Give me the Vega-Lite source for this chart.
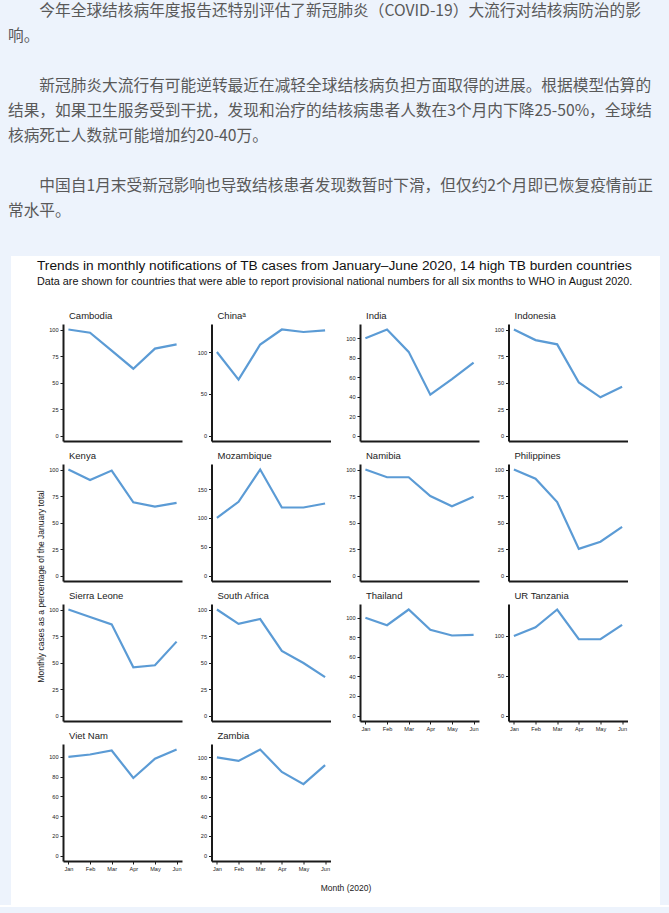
{
  "$schema": "https://vega.github.io/schema/vega-lite/v6.json",
  "background": "white",
  "padding": 0,
  "spacing": 0,
  "datasets": {
    "lines": [
      {"line": 0, "text": "\u200b\u3000\u3000今年全球结核病年度报告还特别评估了新冠肺炎（COVID-19）大流行对结核病防治的影"},
      {"line": 1, "text": "响。"},
      {"line": 3, "text": "\u200b\u3000\u3000新冠肺炎大流行有可能逆转最近在减轻全球结核病负担方面取得的进展。根据模型估算的"},
      {"line": 4, "text": "结果，如果卫生服务受到干扰，发现和治疗的结核病患者人数在3个月内下降25-50%，全球结"},
      {"line": 5, "text": "核病死亡人数就可能增加约20-40万。"},
      {"line": 7, "text": "\u200b\u3000\u3000中国自1月末受新冠影响也导致结核患者发现数暂时下滑，但仅约2个月即已恢复疫情前正"},
      {"line": 8, "text": "常水平。"}
    ],
    "heads": [
      {"line": 0, "text": "Trends in monthly notifications of TB cases from January–June 2020, 14 high TB burden countries"},
      {"line": 1, "text": "Data are shown for countries that were able to report provisional national numbers for all six months to WHO in August 2020."}
    ],
    "blank": [{"t": ""}],
    "tb": [
      {"country": "Cambodia", "month": "Jan", "value": 100},
      {"country": "Cambodia", "month": "Feb", "value": 97},
      {"country": "Cambodia", "month": "Mar", "value": 80},
      {"country": "Cambodia", "month": "Apr", "value": 63},
      {"country": "Cambodia", "month": "May", "value": 82},
      {"country": "Cambodia", "month": "Jun", "value": 86},
      {"country": "China", "month": "Jan", "value": 100},
      {"country": "China", "month": "Feb", "value": 67},
      {"country": "China", "month": "Mar", "value": 109},
      {"country": "China", "month": "Apr", "value": 127},
      {"country": "China", "month": "May", "value": 124},
      {"country": "China", "month": "Jun", "value": 126},
      {"country": "India", "month": "Jan", "value": 100},
      {"country": "India", "month": "Feb", "value": 109},
      {"country": "India", "month": "Mar", "value": 86},
      {"country": "India", "month": "Apr", "value": 42},
      {"country": "India", "month": "May", "value": 58},
      {"country": "India", "month": "Jun", "value": 75},
      {"country": "Indonesia", "month": "Jan", "value": 100},
      {"country": "Indonesia", "month": "Feb", "value": 90},
      {"country": "Indonesia", "month": "Mar", "value": 86},
      {"country": "Indonesia", "month": "Apr", "value": 50},
      {"country": "Indonesia", "month": "May", "value": 36},
      {"country": "Indonesia", "month": "Jun", "value": 46},
      {"country": "Kenya", "month": "Jan", "value": 100},
      {"country": "Kenya", "month": "Feb", "value": 90},
      {"country": "Kenya", "month": "Mar", "value": 99},
      {"country": "Kenya", "month": "Apr", "value": 69},
      {"country": "Kenya", "month": "May", "value": 65},
      {"country": "Kenya", "month": "Jun", "value": 68.5},
      {"country": "Mozambique", "month": "Jan", "value": 100},
      {"country": "Mozambique", "month": "Feb", "value": 128},
      {"country": "Mozambique", "month": "Mar", "value": 184},
      {"country": "Mozambique", "month": "Apr", "value": 118},
      {"country": "Mozambique", "month": "May", "value": 118},
      {"country": "Mozambique", "month": "Jun", "value": 125},
      {"country": "Namibia", "month": "Jan", "value": 100},
      {"country": "Namibia", "month": "Feb", "value": 92.7},
      {"country": "Namibia", "month": "Mar", "value": 92.7},
      {"country": "Namibia", "month": "Apr", "value": 75},
      {"country": "Namibia", "month": "May", "value": 65.3},
      {"country": "Namibia", "month": "Jun", "value": 74.4},
      {"country": "Philippines", "month": "Jan", "value": 100},
      {"country": "Philippines", "month": "Feb", "value": 91.3},
      {"country": "Philippines", "month": "Mar", "value": 69.3},
      {"country": "Philippines", "month": "Apr", "value": 25.1},
      {"country": "Philippines", "month": "May", "value": 31.9},
      {"country": "Philippines", "month": "Jun", "value": 45.8},
      {"country": "Sierra Leone", "month": "Jan", "value": 100},
      {"country": "Sierra Leone", "month": "Feb", "value": 93},
      {"country": "Sierra Leone", "month": "Mar", "value": 86},
      {"country": "Sierra Leone", "month": "Apr", "value": 45.5},
      {"country": "Sierra Leone", "month": "May", "value": 47.4},
      {"country": "Sierra Leone", "month": "Jun", "value": 69.7},
      {"country": "South Africa", "month": "Jan", "value": 100},
      {"country": "South Africa", "month": "Feb", "value": 86.4},
      {"country": "South Africa", "month": "Mar", "value": 91},
      {"country": "South Africa", "month": "Apr", "value": 61},
      {"country": "South Africa", "month": "May", "value": 49.5},
      {"country": "South Africa", "month": "Jun", "value": 36.2},
      {"country": "Thailand", "month": "Jan", "value": 100},
      {"country": "Thailand", "month": "Feb", "value": 92.3},
      {"country": "Thailand", "month": "Mar", "value": 108.4},
      {"country": "Thailand", "month": "Apr", "value": 87.7},
      {"country": "Thailand", "month": "May", "value": 81.8},
      {"country": "Thailand", "month": "Jun", "value": 82.5},
      {"country": "UR Tanzania", "month": "Jan", "value": 100},
      {"country": "UR Tanzania", "month": "Feb", "value": 110.9},
      {"country": "UR Tanzania", "month": "Mar", "value": 133.2},
      {"country": "UR Tanzania", "month": "Apr", "value": 95.8},
      {"country": "UR Tanzania", "month": "May", "value": 95.8},
      {"country": "UR Tanzania", "month": "Jun", "value": 113.9},
      {"country": "Viet Nam", "month": "Jan", "value": 100},
      {"country": "Viet Nam", "month": "Feb", "value": 102.3},
      {"country": "Viet Nam", "month": "Mar", "value": 106.4},
      {"country": "Viet Nam", "month": "Apr", "value": 78.5},
      {"country": "Viet Nam", "month": "May", "value": 98},
      {"country": "Viet Nam", "month": "Jun", "value": 107.4},
      {"country": "Zambia", "month": "Jan", "value": 100},
      {"country": "Zambia", "month": "Feb", "value": 96.5},
      {"country": "Zambia", "month": "Mar", "value": 108.1},
      {"country": "Zambia", "month": "Apr", "value": 85.2},
      {"country": "Zambia", "month": "May", "value": 72.8},
      {"country": "Zambia", "month": "Jun", "value": 92.2}
    ]
  },
  "vconcat": [
    {
      "width": 669,
      "height": 256,
      "view": {"fill": "#edf3fc", "stroke": null},
      "data": {"name": "lines"},
      "mark": {"type": "text", "align": "left", "baseline": "middle", "font": "Noto Sans CJK SC", "fontSize": 15.7, "color": "#595959", "dx": 8},
      "encoding": {
        "x": {"datum": 0, "type": "quantitative", "scale": {"domain": [0, 1]}, "axis": null},
        "y": {"field": "line", "type": "quantitative", "scale": {"domain": [-0.42, 9.82], "reverse": true, "nice": false, "zero": false}, "axis": null},
        "text": {"field": "text"}
      }
    },
    {
      "spacing": 0,
      "columns": 5,
      "align": "none",
      "concat": [
        {
          "width": 11,
          "height": 649,
          "view": {"fill": "#edf3fc", "stroke": null},
          "data": {"name": "blank"},
          "mark": {"type": "text"},
          "encoding": {"text": {"field": "t"}}
        },
        {
          "width": 24.5,
          "height": 649,
          "view": {"fill": "white", "stroke": null},
          "data": {"name": "blank"},
          "mark": {"type": "text"},
          "encoding": {"text": {"field": "t"}}
        },
        {
          "spacing": 5,
          "vconcat": [
            {
              "width": 568,
              "height": 50,
              "data": {"name": "heads"},
              "encoding": {
                "x": {"datum": 0, "type": "quantitative", "scale": {"domain": [0, 1]}, "axis": null},
                "y": {"field": "line", "type": "quantitative", "scale": {"domain": [-0.625, 2.5], "reverse": true, "nice": false, "zero": false}, "axis": null},
                "text": {"field": "text"}
              },
              "layer": [
                {
                  "transform": [{"filter": "datum.line === 0"}],
                  "mark": {"type": "text", "align": "left", "baseline": "middle", "font": "Liberation Sans", "fontSize": 13.7, "color": "#111", "dx": -26}
                },
                {
                  "transform": [{"filter": "datum.line === 1"}],
                  "mark": {"type": "text", "align": "left", "baseline": "middle", "font": "Liberation Sans", "fontSize": 10.8, "color": "#111", "dx": -26}
                }
              ]
            },
            {
              "data": {"name": "tb"},
              "columns": 4,
              "bounds": "flush",
              "spacing": {"row": 23, "column": 29.5},
              "concat": [
                {
                  "width": 119, "height": 117,
                  "title": "Cambodia",
                  "transform": [{"filter": "datum.country === 'Cambodia'"}],
                  "mark": {"type": "line", "color": "#5b9bd5", "strokeWidth": 2.2},
                  "encoding": {
                    "x": {"field": "month", "type": "ordinal", "sort": ["Jan", "Feb", "Mar", "Apr", "May", "Jun"], "scale": {"type": "point", "padding": 0.25}, "axis": {"title": null, "ticks": false, "labels": false}},
                    "y": {"field": "value", "type": "quantitative", "scale": {"zero": true, "nice": false, "padding": 5.5}, "axis": {"title": null, "values": [0, 25, 50, 75, 100]}}
                  }
                },
                {
                  "width": 119, "height": 117,
                  "title": "Chinaᵃ",
                  "transform": [{"filter": "datum.country === 'China'"}],
                  "mark": {"type": "line", "color": "#5b9bd5", "strokeWidth": 2.2},
                  "encoding": {
                    "x": {"field": "month", "type": "ordinal", "sort": ["Jan", "Feb", "Mar", "Apr", "May", "Jun"], "scale": {"type": "point", "padding": 0.25}, "axis": {"title": null, "ticks": false, "labels": false}},
                    "y": {"field": "value", "type": "quantitative", "scale": {"zero": true, "nice": false, "padding": 5.5}, "axis": {"title": null, "values": [0, 50, 100]}}
                  }
                },
                {
                  "width": 119, "height": 117,
                  "title": "India",
                  "transform": [{"filter": "datum.country === 'India'"}],
                  "mark": {"type": "line", "color": "#5b9bd5", "strokeWidth": 2.2},
                  "encoding": {
                    "x": {"field": "month", "type": "ordinal", "sort": ["Jan", "Feb", "Mar", "Apr", "May", "Jun"], "scale": {"type": "point", "padding": 0.25}, "axis": {"title": null, "ticks": false, "labels": false}},
                    "y": {"field": "value", "type": "quantitative", "scale": {"zero": true, "nice": false, "padding": 5.5}, "axis": {"title": null, "values": [0, 20, 40, 60, 80, 100]}}
                  }
                },
                {
                  "width": 119, "height": 117,
                  "title": "Indonesia",
                  "transform": [{"filter": "datum.country === 'Indonesia'"}],
                  "mark": {"type": "line", "color": "#5b9bd5", "strokeWidth": 2.2},
                  "encoding": {
                    "x": {"field": "month", "type": "ordinal", "sort": ["Jan", "Feb", "Mar", "Apr", "May", "Jun"], "scale": {"type": "point", "padding": 0.25}, "axis": {"title": null, "ticks": false, "labels": false}},
                    "y": {"field": "value", "type": "quantitative", "scale": {"zero": true, "nice": false, "padding": 5.5}, "axis": {"title": null, "values": [0, 25, 50, 75, 100]}}
                  }
                },
                {
                  "width": 119, "height": 117,
                  "title": "Kenya",
                  "transform": [{"filter": "datum.country === 'Kenya'"}],
                  "mark": {"type": "line", "color": "#5b9bd5", "strokeWidth": 2.2},
                  "encoding": {
                    "x": {"field": "month", "type": "ordinal", "sort": ["Jan", "Feb", "Mar", "Apr", "May", "Jun"], "scale": {"type": "point", "padding": 0.25}, "axis": {"title": null, "ticks": false, "labels": false}},
                    "y": {"field": "value", "type": "quantitative", "scale": {"zero": true, "nice": false, "padding": 5.5}, "axis": {"title": "Monthly cases as a percentage of the January total", "titleX": -22.5, "titleY": 122, "titleAngle": -90, "titleAlign": "center", "titleBaseline": "middle", "values": [0, 25, 50, 75, 100]}}
                  }
                },
                {
                  "width": 119, "height": 117,
                  "title": "Mozambique",
                  "transform": [{"filter": "datum.country === 'Mozambique'"}],
                  "mark": {"type": "line", "color": "#5b9bd5", "strokeWidth": 2.2},
                  "encoding": {
                    "x": {"field": "month", "type": "ordinal", "sort": ["Jan", "Feb", "Mar", "Apr", "May", "Jun"], "scale": {"type": "point", "padding": 0.25}, "axis": {"title": null, "ticks": false, "labels": false}},
                    "y": {"field": "value", "type": "quantitative", "scale": {"zero": true, "nice": false, "padding": 5.5}, "axis": {"title": null, "values": [0, 50, 100, 150]}}
                  }
                },
                {
                  "width": 119, "height": 117,
                  "title": "Namibia",
                  "transform": [{"filter": "datum.country === 'Namibia'"}],
                  "mark": {"type": "line", "color": "#5b9bd5", "strokeWidth": 2.2},
                  "encoding": {
                    "x": {"field": "month", "type": "ordinal", "sort": ["Jan", "Feb", "Mar", "Apr", "May", "Jun"], "scale": {"type": "point", "padding": 0.25}, "axis": {"title": null, "ticks": false, "labels": false}},
                    "y": {"field": "value", "type": "quantitative", "scale": {"zero": true, "nice": false, "padding": 5.5}, "axis": {"title": null, "values": [0, 25, 50, 75, 100]}}
                  }
                },
                {
                  "width": 119, "height": 117,
                  "title": "Philippines",
                  "transform": [{"filter": "datum.country === 'Philippines'"}],
                  "mark": {"type": "line", "color": "#5b9bd5", "strokeWidth": 2.2},
                  "encoding": {
                    "x": {"field": "month", "type": "ordinal", "sort": ["Jan", "Feb", "Mar", "Apr", "May", "Jun"], "scale": {"type": "point", "padding": 0.25}, "axis": {"title": null, "ticks": false, "labels": false}},
                    "y": {"field": "value", "type": "quantitative", "scale": {"zero": true, "nice": false, "padding": 5.5}, "axis": {"title": null, "values": [0, 25, 50, 75, 100]}}
                  }
                },
                {
                  "width": 119, "height": 117,
                  "title": "Sierra Leone",
                  "transform": [{"filter": "datum.country === 'Sierra Leone'"}],
                  "mark": {"type": "line", "color": "#5b9bd5", "strokeWidth": 2.2},
                  "encoding": {
                    "x": {"field": "month", "type": "ordinal", "sort": ["Jan", "Feb", "Mar", "Apr", "May", "Jun"], "scale": {"type": "point", "padding": 0.25}, "axis": {"title": null, "ticks": false, "labels": false}},
                    "y": {"field": "value", "type": "quantitative", "scale": {"zero": true, "nice": false, "padding": 5.5}, "axis": {"title": null, "values": [0, 25, 50, 75, 100]}}
                  }
                },
                {
                  "width": 119, "height": 117,
                  "title": "South Africa",
                  "transform": [{"filter": "datum.country === 'South Africa'"}],
                  "mark": {"type": "line", "color": "#5b9bd5", "strokeWidth": 2.2},
                  "encoding": {
                    "x": {"field": "month", "type": "ordinal", "sort": ["Jan", "Feb", "Mar", "Apr", "May", "Jun"], "scale": {"type": "point", "padding": 0.25}, "axis": {"title": null, "ticks": false, "labels": false}},
                    "y": {"field": "value", "type": "quantitative", "scale": {"zero": true, "nice": false, "padding": 5.5}, "axis": {"title": null, "values": [0, 25, 50, 75, 100]}}
                  }
                },
                {
                  "width": 119, "height": 117,
                  "title": "Thailand",
                  "transform": [{"filter": "datum.country === 'Thailand'"}],
                  "mark": {"type": "line", "color": "#5b9bd5", "strokeWidth": 2.2},
                  "encoding": {
                    "x": {"field": "month", "type": "ordinal", "sort": ["Jan", "Feb", "Mar", "Apr", "May", "Jun"], "scale": {"type": "point", "padding": 0.25}, "axis": {"title": null, "labelAngle": 0}},
                    "y": {"field": "value", "type": "quantitative", "scale": {"zero": true, "nice": false, "padding": 5.5}, "axis": {"title": null, "values": [0, 20, 40, 60, 80, 100]}}
                  }
                },
                {
                  "width": 119, "height": 117,
                  "title": "UR Tanzania",
                  "transform": [{"filter": "datum.country === 'UR Tanzania'"}],
                  "mark": {"type": "line", "color": "#5b9bd5", "strokeWidth": 2.2},
                  "encoding": {
                    "x": {"field": "month", "type": "ordinal", "sort": ["Jan", "Feb", "Mar", "Apr", "May", "Jun"], "scale": {"type": "point", "padding": 0.25}, "axis": {"title": null, "labelAngle": 0}},
                    "y": {"field": "value", "type": "quantitative", "scale": {"zero": true, "nice": false, "padding": 5.5}, "axis": {"title": null, "values": [0, 50, 100]}}
                  }
                },
                {
                  "width": 119, "height": 117,
                  "title": "Viet Nam",
                  "transform": [{"filter": "datum.country === 'Viet Nam'"}],
                  "mark": {"type": "line", "color": "#5b9bd5", "strokeWidth": 2.2},
                  "encoding": {
                    "x": {"field": "month", "type": "ordinal", "sort": ["Jan", "Feb", "Mar", "Apr", "May", "Jun"], "scale": {"type": "point", "padding": 0.25}, "axis": {"title": null, "labelAngle": 0}},
                    "y": {"field": "value", "type": "quantitative", "scale": {"zero": true, "nice": false, "padding": 5.5}, "axis": {"title": null, "values": [0, 20, 40, 60, 80, 100]}}
                  }
                },
                {
                  "width": 119, "height": 117,
                  "title": "Zambia",
                  "transform": [{"filter": "datum.country === 'Zambia'"}],
                  "mark": {"type": "line", "color": "#5b9bd5", "strokeWidth": 2.2},
                  "encoding": {
                    "x": {"field": "month", "type": "ordinal", "sort": ["Jan", "Feb", "Mar", "Apr", "May", "Jun"], "scale": {"type": "point", "padding": 0.25}, "axis": {"title": "Month (2020)", "titleX": 134, "titleY": 26, "titleAlign": "center", "titleBaseline": "middle", "labelAngle": 0}},
                    "y": {"field": "value", "type": "quantitative", "scale": {"zero": true, "nice": false, "padding": 5.5}, "axis": {"title": null, "values": [0, 20, 40, 60, 80, 100]}}
                  }
                }
              ]
            }
          ]
        },
        {
          "width": 27,
          "height": 649,
          "view": {"fill": "white", "stroke": null},
          "data": {"name": "blank"},
          "mark": {"type": "text"},
          "encoding": {"text": {"field": "t"}}
        },
        {
          "width": 11,
          "height": 649,
          "view": {"fill": "#edf3fc", "stroke": null},
          "data": {"name": "blank"},
          "mark": {"type": "text"},
          "encoding": {"text": {"field": "t"}}
        }
      ]
    },
    {
      "width": 669,
      "height": 8,
      "view": {"fill": "#edf3fc", "stroke": null},
      "data": {"name": "blank"},
      "mark": {"type": "text"},
      "encoding": {"text": {"field": "t"}}
    }
  ],
  "config": {
    "font": "Liberation Sans",
    "view": {"stroke": null},
    "axis": {
      "grid": false,
      "domainColor": "#1a1a1a",
      "domainWidth": 2,
      "tickColor": "#1a1a1a",
      "tickWidth": 1,
      "tickSize": 3,
      "labelFont": "Liberation Sans",
      "labelFontSize": 5.6,
      "labelColor": "#222",
      "labelPadding": 2,
      "titleFont": "Liberation Sans",
      "titleFontSize": 8.5,
      "titleFontWeight": "normal",
      "titleColor": "#222"
    },
    "title": {
      "anchor": "start",
      "frame": "group",
      "font": "Liberation Sans",
      "fontSize": 9.5,
      "fontWeight": "normal",
      "color": "#222",
      "offset": 3.5,
      "dx": 6
    }
  }
}
